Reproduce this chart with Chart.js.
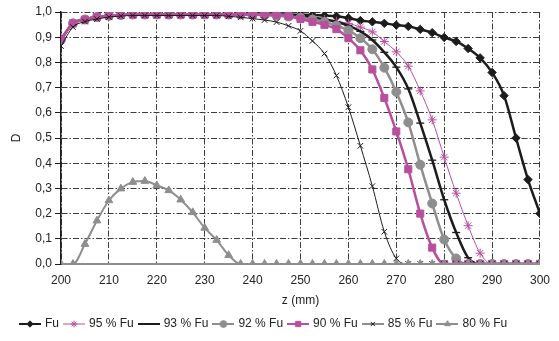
<!DOCTYPE html>
<html>
<head>
<meta charset="utf-8">
<script src="https://cdn.jsdelivr.net/npm/chart.js@4.4.0/dist/chart.umd.min.js"></script>
<style>
  html, body { margin: 0; padding: 0; background: #fff; }
  #wrap { width: 559px; height: 341px; }
</style>
</head>
<body>
<div id="wrap"><canvas id="Chart"></canvas></div>
<script>
// z positions (mm)
const zValues = [200, 202.5, 205, 207.5, 210, 212.5, 215, 217.5, 220, 222.5, 225, 227.5, 230, 232.5, 235, 237.5, 240, 242.5, 245, 247.5,
                 250, 252.5, 255, 257.5, 260, 262.5, 265, 267.5, 270, 272.5, 275, 277.5, 280, 282.5, 285, 287.5, 290, 292.5, 295, 297.5, 300];

const fu = [0.89, 0.955, 0.97, 0.98, 0.985, 0.988, 0.99, 0.99, 0.99, 0.99, 0.99, 0.99, 0.99, 0.99, 0.99, 0.99, 0.99, 0.99, 0.99, 0.99,
            0.989, 0.988, 0.986, 0.983, 0.976, 0.966, 0.961, 0.955, 0.948, 0.943, 0.931, 0.918, 0.899, 0.883, 0.855, 0.818, 0.76, 0.668, 0.5, 0.335, 0.2];
const fu95 = [0.89, 0.955, 0.97, 0.98, 0.985, 0.988, 0.99, 0.99, 0.99, 0.99, 0.99, 0.99, 0.99, 0.99, 0.99, 0.99, 0.99, 0.989, 0.988, 0.986,
              0.982, 0.977, 0.97, 0.963, 0.955, 0.94, 0.921, 0.883, 0.842, 0.785, 0.687, 0.572, 0.424, 0.281, 0.152, 0.043, 0, 0, 0, 0, 0];
const fu93 = [0.89, 0.955, 0.97, 0.98, 0.985, 0.988, 0.99, 0.99, 0.99, 0.99, 0.99, 0.99, 0.99, 0.99, 0.99, 0.99, 0.99, 0.989, 0.987, 0.985,
              0.982, 0.977, 0.971, 0.961, 0.946, 0.923, 0.889, 0.84, 0.781, 0.695, 0.559, 0.412, 0.255, 0.125, 0.025, 0, 0, 0, 0, 0, 0];
const fu92 = [0.89, 0.955, 0.97, 0.98, 0.985, 0.988, 0.99, 0.99, 0.99, 0.99, 0.99, 0.99, 0.99, 0.99, 0.99, 0.99, 0.989, 0.987, 0.985, 0.982,
              0.977, 0.97, 0.96, 0.946, 0.927, 0.896, 0.852, 0.779, 0.683, 0.562, 0.394, 0.24, 0.097, 0.022, 0, 0, 0, 0, 0, 0, 0];
const fu90 = [0.892, 0.955, 0.97, 0.98, 0.985, 0.988, 0.99, 0.99, 0.99, 0.99, 0.99, 0.99, 0.99, 0.99, 0.99, 0.99, 0.99, 0.99, 0.989, 0.983,
              0.972, 0.961, 0.949, 0.932, 0.896, 0.848, 0.772, 0.659, 0.526, 0.376, 0.2, 0.065, 0, 0, 0, 0, 0, 0, 0, 0, 0];
const fu85 = [0.865, 0.94, 0.962, 0.972, 0.98, 0.984, 0.986, 0.986, 0.986, 0.986, 0.986, 0.986, 0.986, 0.986, 0.983, 0.979, 0.974, 0.968, 0.96, 0.945,
              0.925, 0.885, 0.835, 0.748, 0.622, 0.469, 0.309, 0.128, 0.022, 0, 0, 0, 0, 0, 0, 0, 0, 0, 0, 0, 0];
const fu80 = [0, 0, 0.079, 0.172, 0.252, 0.299, 0.325, 0.329, 0.312, 0.292, 0.255, 0.205, 0.143, 0.095, 0.035, 0, 0, 0, 0, 0,
              0, 0, 0, 0, 0, 0, 0, 0, 0, 0, 0, 0, 0, 0, 0, 0, 0, 0, 0, 0, 0];

const seriesNames = ["Fu", "95 % Fu", "93 % Fu", "92 % Fu", "90 % Fu", "85 % Fu", "80 % Fu"];
const yTicks = [0, 0.1, 0.2, 0.3, 0.4, 0.5, 0.6, 0.7, 0.8, 0.9, 1.0];

const black = "#1c1c1c";
const pink = "#b84f9c";
const grey = "#8e8e8e";
const gridCol = "#3c3c3c";
const gridDash = [6, 2, 1.5, 2];
const fontName = "'Liberation Sans', Arial, sans-serif";

function pts(vals) {
    return vals.map((v, i) => ({ x: zValues[i], y: v }));
}

function mkSet(label, vals, color, lw, style, rad, filled, pbw, ord) {
    return {
        label: label,
        data: pts(vals),
        borderColor: color,
        backgroundColor: filled ? color : "rgba(0,0,0,0)",
        pointBackgroundColor: filled ? color : "rgba(0,0,0,0)",
        pointBorderColor: color,
        pointBorderWidth: pbw,
        borderWidth: lw,
        pointStyle: style,
        pointRadius: rad,
        pointHoverRadius: rad,
        cubicInterpolationMode: "monotone",
        fill: false,
        order: ord
    };
}

const sets = [
    mkSet(seriesNames[0], fu, black, 2.5, "rectRot", 4.2, true, 1, 6),
    mkSet(seriesNames[1], fu95, pink, 1, "star", 4.5, false, 1, 5),
    mkSet(seriesNames[2], fu93, black, 2.5, "line", 4, false, 1.3, 4),
    mkSet(seriesNames[3], fu92, grey, 2.5, "circle", 4.5, true, 1, 3),
    mkSet(seriesNames[4], fu90, pink, 2.5, "rect", 5, true, 1, 2),
    mkSet(seriesNames[5], fu85, black, 1, "crossRot", 4, false, 1, 1),
    mkSet(seriesNames[6], fu80, grey, 2, "triangle", 4.5, true, 1, 0)
];

// small picture of line + marker for the legend
function legendIcon(ds) {
    const c = document.createElement("canvas");
    c.width = 22; c.height = 12;
    const g = c.getContext("2d");
    g.strokeStyle = ds.borderColor;
    g.lineWidth = Math.min(ds.borderWidth, 2);
    g.beginPath(); g.moveTo(0, 6); g.lineTo(22, 6); g.stroke();
    g.fillStyle = ds.pointBackgroundColor;
    g.strokeStyle = ds.pointBorderColor;
    g.lineWidth = ds.pointBorderWidth;
    Chart.helpers.drawPoint(g, {
        pointStyle: ds.pointStyle,
        radius: ds.pointRadius * 0.75,
        rotation: 0,
        borderWidth: ds.pointBorderWidth
    }, 11, 6);
    return c;
}

const ctx = document.getElementById("Chart");
const myChart = new Chart(ctx, {
    type: "line",
    data: { datasets: sets },
    options: {
        responsive: true,
        maintainAspectRatio: false,
        animation: false,
        layout: { padding: { top: 12, right: 16, left: 15, bottom: 1 } },
        plugins: {
            tooltip: { enabled: false },
            legend: {
                position: "bottom",
                align: "start",
                labels: {
                    usePointStyle: true,
                    pointStyleWidth: 18,
                    padding: 6,
                    color: "#222",
                    font: { family: fontName, size: 12 },
                    generateLabels: function(chart) {
                        return chart.data.datasets.map((ds, i) => ({
                            text: ds.label,
                            pointStyle: legendIcon(ds),
                            fillStyle: ds.borderColor,
                            strokeStyle: ds.borderColor,
                            lineWidth: 0,
                            hidden: !chart.isDatasetVisible(i),
                            datasetIndex: i,
                            fontColor: "#222"
                        }));
                    }
                }
            }
        },
        scales: {
            x: {
                type: "linear",
                min: 200,
                max: 300,
                afterFit: function(scale) { scale.height = 48; },
                ticks: {
                    stepSize: 10,
                    color: "#222",
                    padding: 9,
                    font: { family: fontName, size: 12 }
                },
                grid: { display: true, drawOnChartArea: true, drawTicks: false, lineWidth: 1, color: gridCol },
                border: { display: true, color: grey, width: 2, dash: gridDash },
                title: {
                    display: true,
                    text: "z (mm)",
                    color: "#222",
                    padding: { top: 2, bottom: 4 },
                    font: { family: fontName, size: 12 }
                }
            },
            y: {
                min: 0,
                max: 1,
                afterFit: function(scale) { scale.width = 46; },
                afterBuildTicks: function(scale) {
                    scale.ticks = yTicks.map(v => ({ value: v }));
                },
                ticks: {
                    color: "#222",
                    padding: 3,
                    font: { family: fontName, size: 12 },
                    callback: function(v) { return v.toFixed(1).replace(".", ","); }
                },
                grid: { display: true, drawOnChartArea: true, lineWidth: 1, color: gridCol, tickColor: black, tickLength: 6, tickBorderDash: [] },
                border: { display: true, color: black, width: 1.5, dash: gridDash },
                title: {
                    display: true,
                    text: "D",
                    color: "#222",
                    padding: { top: -6, bottom: 4 },
                    font: { family: fontName, size: 12 }
                }
            }
        }
    }
});
</script>
</body>
</html>
